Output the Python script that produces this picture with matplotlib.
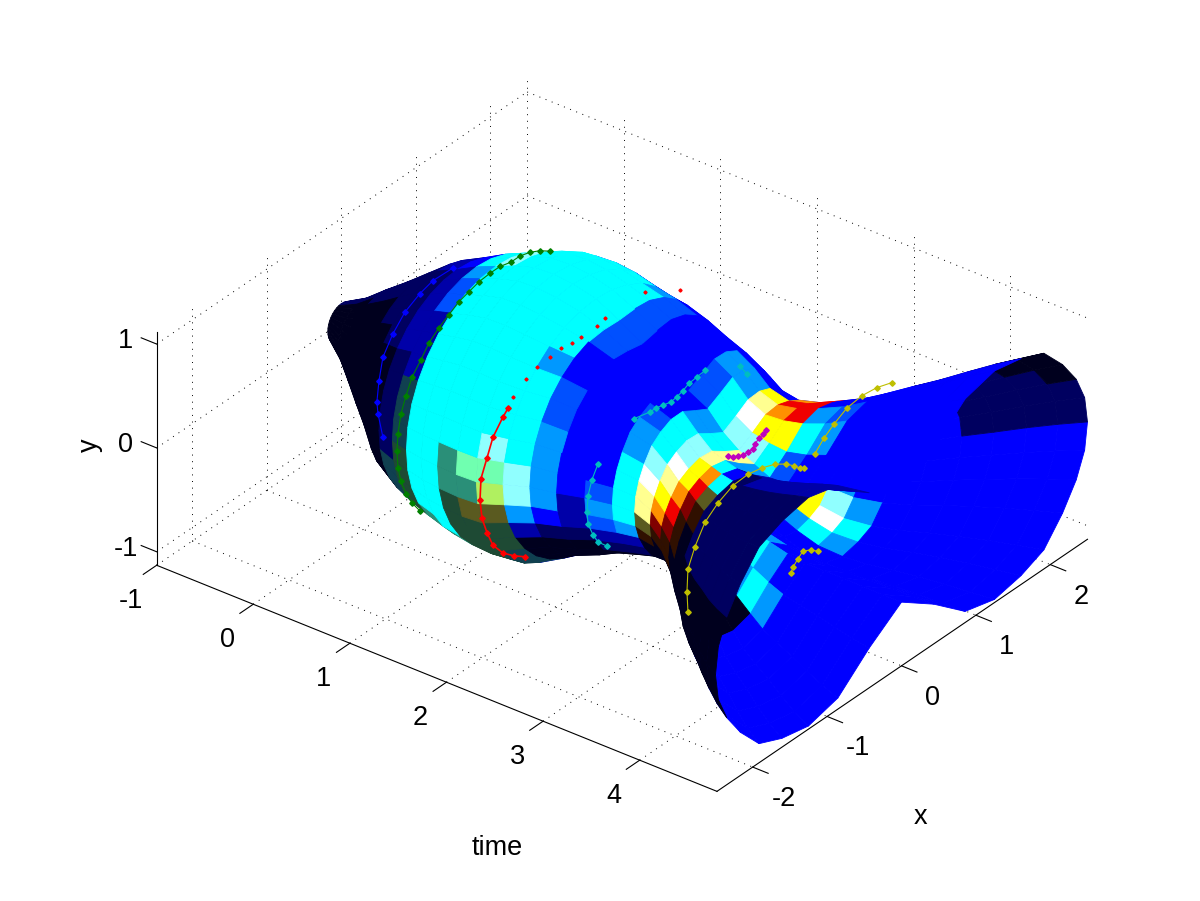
import numpy as np
import matplotlib
matplotlib.use('Agg')
import matplotlib.pyplot as plt
from matplotlib.colors import to_rgba
from mpl_toolkits.mplot3d import proj3d

# tube, one entry per time station
time_stations = [-1.0, -0.8, -0.6, -0.4, -0.2, 0.0, 0.2, 0.4, 0.6, 0.8, 1.0, 1.2, 1.4, 1.6, 1.8,
                 2.0, 2.2, 2.4, 2.6, 2.8, 3.0, 3.2, 3.4, 3.6, 3.8, 4.0, 4.2, 4.4, 4.6, 4.8]
half_x = [0.18, 0.30, 0.46, 0.62, 0.78, 0.95, 1.05, 1.13, 1.20, 1.26, 1.30, 1.31, 1.30, 1.25, 1.20,
          1.15, 1.08, 1.02, 0.98, 0.98, 1.05, 1.15, 1.30, 1.47, 1.66, 1.85, 2.02, 2.20, 2.36, 2.50]
half_y = [0.18, 0.30, 0.46, 0.62, 0.78, 0.95, 1.04, 1.12, 1.18, 1.24, 1.28, 1.29, 1.27, 1.18, 1.08,
          0.98, 0.86, 0.78, 0.70, 0.60, 0.55, 0.60, 0.66, 0.72, 0.78, 0.84, 0.90, 0.97, 1.04, 1.10]
centre_x = [0, 0, 0, 0, 0, 0, 0, 0, 0, 0, 0, 0, 0, 0.05, 0.10,
            0.15, 0.20, 0.25, 0.25, 0.20, 0.15, 0.10, 0.05, 0.03, 0, 0, 0, 0, 0, 0]
centre_y = [0, -0.02, -0.03, -0.05, -0.06, -0.08, -0.08, -0.06, -0.04, -0.02, 0, 0, 0, 0, 0,
            -0.03, -0.06, -0.1, -0.12, -0.14, -0.15, -0.17, -0.18, -0.18, -0.15, -0.12, -0.09, -0.06, -0.03, 0]
lobe = [0, 0, 0, 0, 0, 0, 0, 0, 0, 0, 0, 0, 0, 0, 0.1,
        0.2, 0.35, 0.45, 0.5, 0.6, 0.7, 0.85, 1, 1, 1, 1, 1, 1, 1, 1]
angles = np.arange(0, 370, 10)
peanut = [0, .23, .44, .65, .86, .95, 1, .93, .68, .47, .68, .93, 1, .95, .86, .65, .44, .23,
          0, -.23, -.44, -.65, -.86, -.95, -1, -.93, -.68, -.47, -.68, -.93, -1, -.95, -.86, -.65, -.44, -.23, 0]

# surface colours, one letter per cell: rows are time stations, columns are angles
palette = {'0': '#00001e', '1': '#000060', '2': '#0000a8', '3': '#0000ff', '4': '#0050ff',
           '5': '#0098ff', '6': '#00ffff', '7': '#90ffff', '8': '#ffffff', '9': '#ffff90',
           'A': '#ffff00', 'B': '#ff9000', 'C': '#f00000', 'D': '#800000', 'E': '#301000',
           'F': '#1e4a34', 'G': '#2a8f78', 'H': '#70ffb0', 'I': '#b0f060', 'J': '#5a5a20',
           'K': '#104050'}
cell_levels = [
    '00000' '11111000000000000000' '00000000000',
    '00000' '11111000000000000000' '00000000000',
    '00000' '11111100000000000000' '00000000000',
    '00000' '11111100000000000000' '00000000000',
    '00000' '22211111000000000000' '00000000000',
    '11111' '22221111100000000000' '00000000000',
    '33333' '33332222211111KKKKKK' '33333333333',
    '33333' '56665442 22KKKFFFFFFF'.replace(' ', '') + '33333333333',
    '33333' '7777666666666666GGFF' '33333333333',
    '33333' '66666666666666666GGF' '33333333333',
    '33333' '666666666666GGFFFFFF' '33333333333',
    '33333' '666666666666HGJFFFFF' '33333333333',
    '33333' '666666666667HIJFFKKK' '33333333333',
    '33333' '56666665666677520000' '33333333333',
    '33333' '44444433445555310000' '33333333333',
    '33333' '33333333333332210000' '33333333333',
    '33333' '33333333333345421000' '33333333333',
    '33333' '55443334556666521000' '33333333333',
    '33333' '5566556667899JE00000' '33333333333',
    '33333' 'A987667789ABDE000000' '33333333333',
    '3333B' 'CBA7999AABCDEE000000' '333335AA533',
    '333CC' 'CCA6556BCDEE00000000' '56533687533',
    '33333' '35642136JE0000000000' '65333565333',
    '33333' '34532111111000033333' '53333333333',
    '33333' '33333221111000033333' '33333333333',
    '11111' '33333221111000033333' '33333333333',
    '11111' '33333221111000033333' '33333333333',
    '11100' '33333221111000033333' '33333333333',
    '11000' '33333221111000033333' '33333333333',
    '11000' '33333221111000033333' '33333333333',
]

# marked curves, one time value and its x, y points
blue_t = 0.1
blue_x = [-.867, -.934, -.948, -.92, -.867, -.733, -.571, -.37, -.195, .074]
blue_y = [-.27, -.01, .11, .30, .50, .66, .79, .87, .91, .90]
green_t = 0.5
green_x = [-.888, -.996, -1.077, -1.144, -1.184, -1.198, -1.184, -1.144, -1.077, -.996, -.875, -.767,
           -.633, -.499, -.364, -.23, -.095, .052, .187, .335, .456, .59, .724, .859]
green_y = [-.82, -.69, -.56, -.41, -.26, -.09, .07, .24, .38, .52, .63, .74,
           .82, .88, .94, .97, 1.0, 1.01, 1.01, .98, .98, .95, .90, .83]
red_t = 1.5
red_x = [-.776, -.923, -1.071, -1.206, -1.286, -1.353, -1.38, -1.367, -1.286, -1.206, -1.071, -1.004]
red_y = [-.94, -.86, -.76, -.62, -.46, -.29, -.10, .10, .26, .42, .55, .60]
red_top_x = [-.937, -.762, -.614, -.44, -.292, -.144, -.023, .192, .30, .837, 1.308]
red_top_y = [.68, .76, .81, .82, .83, .81, .81, .81, .83, .82, .61]
cyan_t = 2.2
cyan_x = [-.582, -.703, -.77, -.837, -.851, -.837, -.784, -.703]
cyan_y = [-.67, -.57, -.47, -.33, -.21, -.06, .07, .18]
cyan_top_x = [-.219, 0, .077, .171, .278, .359, .44, .52, .628, .735]
cyan_top_y = [.38, .34, .34, .32, .30, .31, .33, .36, .37, .38]
cyan_end_x = [1.206, 1.3]
cyan_end_y = [.19, .07]
magenta_t = 3.0
magenta_x = [.01, .073, .14, .207, .274, .341, .368, .422, .476, .516]
magenta_y = [.21, .17, .15, .12, .12, .12, .15, .18, .19, .21]
yellow_t = 3.6
yellow_x = [-1.312, -1.325, -1.312, -1.218, -1.083, -.909, -.707, -.505, -.317, -.142, .005, .113, .194, .247]
yellow_y = [-.42, -.22, -.01, .16, .33, .43, .50, .51, .48, .43, .36, .29, .23, .20]
yellow_right_x = [.395, .516, .651, .825, 1.027, 1.228, 1.43]
yellow_right_y = [.27, .36, .43, .50, .52, .50, .45]
yellow_in_x = [.073, .1, .167, .234, .341, .435]
yellow_in_y = [-.72, -.68, -.63, -.59, -.63, -.69]

time_ticks = [-1, 0, 1, 2, 3, 4]
x_ticks = [-2, -1, 0, 1, 2]
y_ticks = [-1, 0, 1]
tlim = (-1, 4.8)
xlim = (-2.48, 2.5)
ylim = (-1.13, 1.12)

plt.rcParams['font.family'] = 'Liberation Sans'
fig = plt.figure(figsize=(12, 9.01), dpi=100)
ax = fig.add_axes([-45.5 / 1200, -202 / 901, 1300 / 1200, 1300 / 901], projection='3d',
                  proj_type='ortho', computed_zorder=False)
ax.view_init(elev=31.6, azim=-52.4)
ax.set_xlim(*tlim)
ax.set_ylim(*xlim)
ax.set_zlim(*ylim)
ax.set_box_aspect((5.8, 4.98, 2.25), zoom=0.7256)
ax.set_xticks([])
ax.set_yticks([])
ax.set_zticks([])
ax.set_axis_off()
ax.apply_aspect()

# tick label placed through the 3d projection, as plain figure text
def tick_label(t, x, y, s):
    x2, y2, _ = proj3d.proj_transform(t, x, y, ax.get_proj())
    px, py = ax.transData.transform((x2, y2))
    fig.text(px / fig.bbox.width, py / fig.bbox.height, s, fontsize=19.5, ha='center', va='center')

# dotted grid on floor and the two back walls
gs = dict(color='k', ls=(0, (1, 5.8)), lw=0.7, zorder=1)
for t in time_ticks:
    ax.plot([t, t], xlim, [ylim[0]] * 2, **gs)
    ax.plot([t, t], [xlim[1]] * 2, ylim, **gs)
for x in x_ticks:
    ax.plot(tlim, [x, x], [ylim[0]] * 2, **gs)
    ax.plot([tlim[0]] * 2, [x, x], ylim, **gs)
for y in y_ticks:
    ax.plot(tlim, [xlim[1]] * 2, [y, y], **gs)
    ax.plot([tlim[0]] * 2, xlim, [y, y], **gs)

# solid axes with their ticks
ls = dict(color='k', lw=0.8, zorder=1.5)
ax.plot(tlim, [xlim[0]] * 2, [ylim[0]] * 2, **ls)
ax.plot([tlim[1]] * 2, xlim, [ylim[0]] * 2, **ls)
ax.plot([tlim[0]] * 2, [xlim[0]] * 2, ylim, **ls)
for t in time_ticks:
    ax.plot([t, t], [xlim[0], xlim[0] - 0.18], [ylim[0]] * 2, **ls)
    tick_label(t, xlim[0] - 0.35, ylim[0] - 0.177, str(t))
for x in x_ticks:
    ax.plot([tlim[1], tlim[1] + 0.16], [x, x], [ylim[0]] * 2, **ls)
    tick_label(tlim[1] + 0.32, x, ylim[0] - 0.188, str(x))
for y in y_ticks:
    ax.plot([tlim[0], tlim[0] - 0.16], [xlim[0]] * 2, [y, y], **ls)
    tick_label(tlim[0] - 0.32, xlim[0], y - 0.09, str(y))
fig.text(497 / 1200, 1 - 848 / 901, 'time', fontsize=19.5, ha='center', va='center')
fig.text(921 / 1200, 1 - 817 / 901, 'x', fontsize=19.5, ha='center', va='center')
fig.text(90 / 1200, 1 - 445 / 901, 'y', fontsize=19.5, ha='center', va='center', rotation=90)

# the tube
c = np.cos(np.radians(angles))
s = np.sin(np.radians(angles))
T = np.array(time_stations)[:, None] * np.ones(len(angles))
w = np.array(lobe)[:, None]
X = np.array(centre_x)[:, None] + np.array(half_x)[:, None] * c
Y = np.array(centre_y)[:, None] + np.array(half_y)[:, None] * ((1 - w) * s + w * np.array(peanut))
colours = np.array([[to_rgba(palette[ch]) for ch in (row + row[0])] for row in cell_levels])
ax.plot_surface(T, X, Y, facecolors=colours, linewidth=0.6, shade=False, rcount=100, ccount=100, zorder=2)

# marked curves on top of the tube
def curve(t, xs, ys, colour, ms=2.8, lw=0.8):
    ax.plot([t] * len(xs), xs, ys, color=colour, marker='D', ms=ms, lw=lw, zorder=3)

curve(blue_t, blue_x, blue_y, 'b')
curve(green_t, green_x, green_y, (0, 0.5, 0))
curve(red_t, red_x, red_y, 'r', lw=1.2)
curve(red_t, red_top_x, red_top_y, 'r', ms=1.6, lw=0)
curve(cyan_t, cyan_x, cyan_y, (0, 0.75, 0.75))
curve(cyan_t, cyan_top_x, cyan_top_y, (0, 0.75, 0.75))
curve(cyan_t, cyan_end_x, cyan_end_y, (0, 0.75, 0.75))
curve(magenta_t, magenta_x, magenta_y, (0.75, 0, 0.75))
curve(yellow_t, yellow_x, yellow_y, (0.75, 0.75, 0))
curve(yellow_t, yellow_right_x, yellow_right_y, (0.75, 0.75, 0))
curve(yellow_t, yellow_in_x, yellow_in_y, (0.75, 0.75, 0))

fig.savefig('out.png', dpi=100)
